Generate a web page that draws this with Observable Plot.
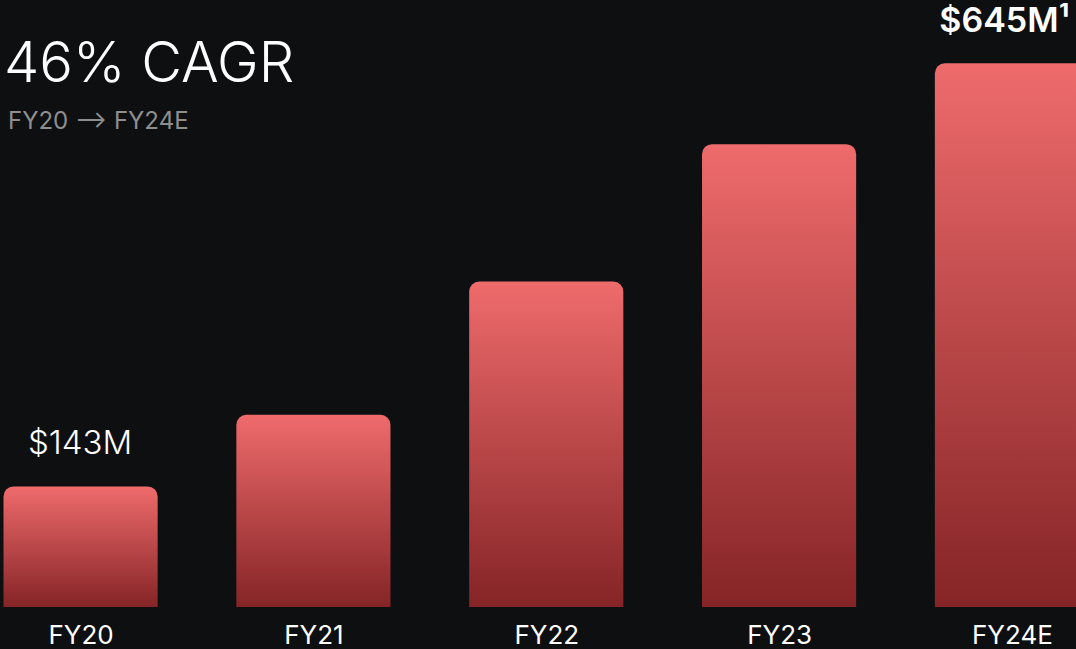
<!DOCTYPE html>
<html><head><meta charset="utf-8">
<script src="https://cdn.jsdelivr.net/npm/d3@7"></script>
<script src="https://cdn.jsdelivr.net/npm/@observablehq/plot@0.6"></script>
<style>
html,body{margin:0;padding:0;background:#0e0f11;overflow:hidden;}
#wrap{position:relative;width:1076px;height:649px;font-family:Inter,sans-serif;overflow:hidden;}
#title{position:absolute;left:4px;top:34px;font-size:56px;font-weight:300;color:#fff;line-height:1;white-space:nowrap;}
#subtitle{position:absolute;left:8px;top:109px;font-size:24px;font-weight:400;color:#8e8e8e;line-height:1;white-space:nowrap;}
</style></head>
<body><div id="wrap"><div id="chart"></div><div id="title"></div><div id="subtitle"></div></div>
<script>
const categories = ["FY20", "FY21", "FY22", "FY23", "FY24E"];
const revenue = [143, 228, 386, 549, 645];
const valueLabels = ["$143M", "", "", "", "$645M¹"];
const titleText = "46% CAGR";
const subtitleText = "FY20 ⟶ FY24E";

document.getElementById("title").textContent = titleText;
document.getElementById("subtitle").textContent = subtitleText;

const data = categories.map((c, i) => ({category: c, revenue: revenue[i], label: valueLabels[i]}));
const lastCat = categories[categories.length - 1];

const chart = Plot.plot({
  width: 1076, height: 649,
  marginTop: 0, marginBottom: 42, marginLeft: 0, marginRight: 0,
  style: {background: "transparent", color: "#fff", fontFamily: "Inter, sans-serif", fontSize: "26px", overflow: "hidden"},
  x: {type: "band", domain: categories, range: [3.5, 1089], paddingInner: 0.338, paddingOuter: 0, align: 0, round: false, label: null},
  y: {domain: [0, 720], axis: null},
  marks: [
    Plot.barY(data, {x: "category", y: "revenue", fill: "url(#barGrad)", ry1: 10}),
    Plot.axisX({tickSize: 0, tickPadding: 18, fill: "#fff", fontSize: 26, label: null}),
    Plot.text(data.filter(d => d.label && d.category !== lastCat), {
      x: "category", y: "revenue", text: "label", fill: "#fff",
      fontSize: 33, fontWeight: 300, lineAnchor: "bottom", dy: -33, dx: -1
    }),
    Plot.text(data.filter(d => d.label && d.category === lastCat), {
      x: "category", y: "revenue", text: "label", fill: "#fff",
      fontSize: 34, fontWeight: 600, lineAnchor: "bottom", dy: -32, dx: -8
    })
  ]
});

const svg = d3.select(chart);
const defs = svg.insert("defs", ":first-child");
const grad = defs.append("linearGradient").attr("id", "barGrad")
  .attr("x1", 0).attr("y1", 0).attr("x2", 0).attr("y2", 1);
grad.append("stop").attr("offset", "0%").attr("stop-color", "#ef6b6c");
grad.append("stop").attr("offset", "100%").attr("stop-color", "#852426");

document.getElementById("chart").appendChild(chart);
</script>
</body></html>
